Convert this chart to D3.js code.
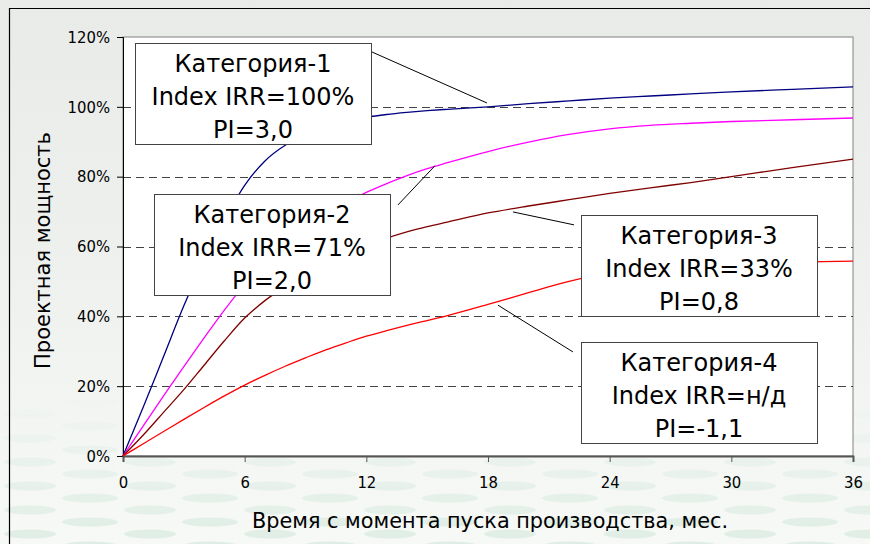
<!DOCTYPE html>
<html>
<head>
<meta charset="utf-8">
<script src="https://cdn.jsdelivr.net/npm/d3@7/dist/d3.min.js"></script>
<style>
  body { margin: 0; background: #eef0ee; }
  svg { display: block; }
  .tick text { font-family: "DejaVu Sans Condensed", "DejaVu Sans", sans-serif; font-size: 16.5px; fill: #000; }
</style>
</head>
<body>
<div id="chart"></div>
<script>
// months after start, and capacity (%) per category
var months = [0, 1, 2, 3, 4, 5, 6, 7, 8, 9, 10, 11, 12, 13, 14, 15, 16, 18, 20, 22, 24, 26, 28, 30, 33, 36];

var cat1 = [0, 14, 28.5, 43, 56, 67.5, 77.5, 84.5, 89, 92, 94.3, 95.9, 97, 97.8, 98.4, 98.9, 99.3, 100, 100.9, 101.7, 102.5, 103.1, 103.7, 104.3, 105, 105.7];
var cat2 = [0, 8.6, 17.2, 25.6, 33.8, 41.8, 49, 55, 60.3, 65, 69, 72.5, 75.5, 78, 80.3, 82.3, 84, 87.2, 89.9, 92.1, 93.7, 94.7, 95.3, 95.8, 96.3, 96.8];
var cat3 = [0, 6, 12.5, 19, 26, 33, 39.5, 44.5, 48.5, 52, 55, 57.8, 60.3, 62.4, 64.2, 65.7, 67, 69.6, 71.6, 73.4, 75.2, 76.8, 78.3, 80, 82.6, 85];
var cat4 = [0, 3.5, 7, 10.5, 13.9, 17.2, 20.3, 23.1, 25.7, 28.1, 30.4, 32.4, 34.3, 35.9, 37.4, 38.8, 40.2, 43.4, 46.8, 50, 52.5, 54, 54.8, 55.2, 55.5, 55.8];

var seriesNames = ["Категория-1", "Категория-2", "Категория-3", "Категория-4"];
var seriesColors = ["#000080", "#ff00ff", "#800000", "#ff0000"];
var irrLabels = ["Index IRR=100%", "Index IRR=71%", "Index IRR=33%", "Index IRR=н/д"];
var piLabels = ["PI=3,0", "PI=2,0", "PI=0,8", "PI=-1,1"];

var xTicks = [0, 6, 12, 18, 24, 30, 36];
var yTicks = [0, 20, 40, 60, 80, 100, 120];

// label boxes: left month, top value; leader: from (month, value) to (month, value)
var boxPos = [[0.59, 118.3], [1.53, 75.0], [22.58, 69.0], [22.58, 32.6]];
var leaders = [[12.28, 115.7, 17.95, 101.1], [13.56, 71.9, 15.38, 83.1], [22.24, 66.2, 19.23, 69.9], [22.19, 29.8, 18.49, 43.2]];

var W = 870, H = 544;
var margin = {top: 37, right: 17, bottom: 88, left: 123},
    width = W - margin.left - margin.right,
    height = H - margin.top - margin.bottom;

var svg = d3.select("#chart").append("svg")
    .attr("width", W)
    .attr("height", H);

// slide background
var defs = svg.append("defs");
var bg = defs.append("linearGradient").attr("id", "bg").attr("x1", 0).attr("y1", 0).attr("x2", 0).attr("y2", 1);
bg.append("stop").attr("offset", "0%").attr("stop-color", "#e8ebe8");
bg.append("stop").attr("offset", "45%").attr("stop-color", "#eef0ee");
bg.append("stop").attr("offset", "100%").attr("stop-color", "#f7f9f7");

var pat = defs.append("pattern").attr("id", "dots")
    .attr("patternUnits", "userSpaceOnUse").attr("width", 120).attr("height", 24);
pat.append("ellipse").attr("cx", 30).attr("cy", 6).attr("rx", 26).attr("ry", 4.5).attr("fill", "#cfe6d9");
pat.append("ellipse").attr("cx", 90).attr("cy", 18).attr("rx", 28).attr("ry", 4.5).attr("fill", "#cfe6d9");

var fade = defs.append("linearGradient").attr("id", "fade").attr("x1", 0).attr("y1", 0).attr("x2", 0).attr("y2", 1);
fade.append("stop").attr("offset", "0%").attr("stop-color", "#fff").attr("stop-opacity", 0);
fade.append("stop").attr("offset", "100%").attr("stop-color", "#fff").attr("stop-opacity", 1);
defs.append("mask").attr("id", "fadeMask")
  .append("rect").attr("x", 0).attr("y", 390).attr("width", W).attr("height", H - 390).attr("fill", "url(#fade)");

svg.append("rect").attr("width", W).attr("height", H).attr("fill", "url(#bg)");
svg.append("rect").attr("x", 0).attr("y", 390).attr("width", W).attr("height", H - 390)
    .attr("fill", "url(#dots)").attr("mask", "url(#fadeMask)").attr("opacity", 0.6);

svg.append("path")
    .attr("d", "M9.5," + H + "V8.5H" + W)
    .attr("fill", "none").attr("stroke", "#000").attr("stroke-width", 1.2);

var g = svg.append("g").attr("transform", "translate(" + margin.left + "," + margin.top + ")");

var x = d3.scaleLinear().domain([0, 36]).range([0, width]);
var y = d3.scaleLinear().domain([0, 120]).range([height, 0]);

g.append("rect").attr("width", width).attr("height", height)
    .attr("fill", "#fff").attr("stroke", "#808080");

// dashed gridlines
g.selectAll(".grid").data(yTicks.filter(function(d) { return d > 0 && d < 120; }))
  .enter().append("line")
    .attr("class", "grid")
    .attr("x1", 0).attr("x2", width)
    .attr("y1", function(d) { return Math.round(y(d)) + 0.5; })
    .attr("y2", function(d) { return Math.round(y(d)) + 0.5; })
    .attr("stroke", "#444").attr("stroke-dasharray", "8,5");

var yAxis = g.append("g")
    .call(d3.axisLeft(y).tickValues(yTicks).tickSize(6).tickPadding(7)
      .tickFormat(function(d) { return d + "%"; }));
yAxis.select(".domain").attr("stroke", "#000");

var xAxis = g.append("g")
    .attr("transform", "translate(0," + height + ")")
    .call(d3.axisBottom(x).tickValues(xTicks).tickSize(6).tickPadding(14));
xAxis.select(".domain").attr("stroke", "#555").attr("stroke-width", 2);
xAxis.selectAll(".tick line").attr("stroke", "#555");

// curves
var series = [cat1, cat2, cat3, cat4];
var line = d3.line()
    .curve(d3.curveMonotoneX)
    .x(function(d, i) { return x(months[i]); })
    .y(function(d) { return y(d); });

g.selectAll(".curve").data(series)
  .enter().append("path")
    .attr("class", "curve")
    .attr("fill", "none")
    .attr("stroke", function(d, i) { return seriesColors[i]; })
    .attr("stroke-width", 1.3)
    .attr("d", line);

// leader lines
g.selectAll(".leader").data(leaders)
  .enter().append("line")
    .attr("x1", function(d) { return x(d[0]); })
    .attr("y1", function(d) { return y(d[1]); })
    .attr("x2", function(d) { return x(d[2]); })
    .attr("y2", function(d) { return y(d[3]); })
    .attr("stroke", "#000").attr("stroke-width", 1);

// label boxes
var boxW = 236, boxH = 101;
var boxes = g.selectAll(".box").data(boxPos)
  .enter().append("g")
    .attr("transform", function(d) { return "translate(" + Math.round(x(d[0])) + "," + Math.round(y(d[1])) + ")"; });

boxes.append("rect")
    .attr("x", 0.5).attr("y", 0.5)
    .attr("width", boxW).attr("height", boxH)
    .attr("fill", "#fff").attr("stroke", "#444");

boxes.each(function(d, i) {
  var lines = [seriesNames[i], irrLabels[i], piLabels[i]];
  d3.select(this).selectAll("text").data(lines)
    .enter().append("text")
      .attr("x", boxW / 2)
      .attr("y", function(t, j) { return 29 + j * 33; })
      .attr("text-anchor", "middle")
      .style("font-family", "'DejaVu Sans', sans-serif")
      .style("font-size", "24px")
      .text(function(t) { return t; });
});

// axis titles
g.append("text")
    .attr("transform", "rotate(-90)")
    .attr("x", -height / 2 - 4)
    .attr("y", -73)
    .attr("text-anchor", "middle")
    .style("font-family", "'DejaVu Sans', sans-serif")
    .style("font-size", "21px")
    .text("Проектная мощность");

g.append("text")
    .attr("x", width / 2 + 2)
    .attr("y", height + 72)
    .attr("text-anchor", "middle")
    .style("font-family", "'DejaVu Sans', sans-serif")
    .style("font-size", "20.8px")
    .text("Время с момента пуска производства, мес.");
</script>
</body>
</html>
